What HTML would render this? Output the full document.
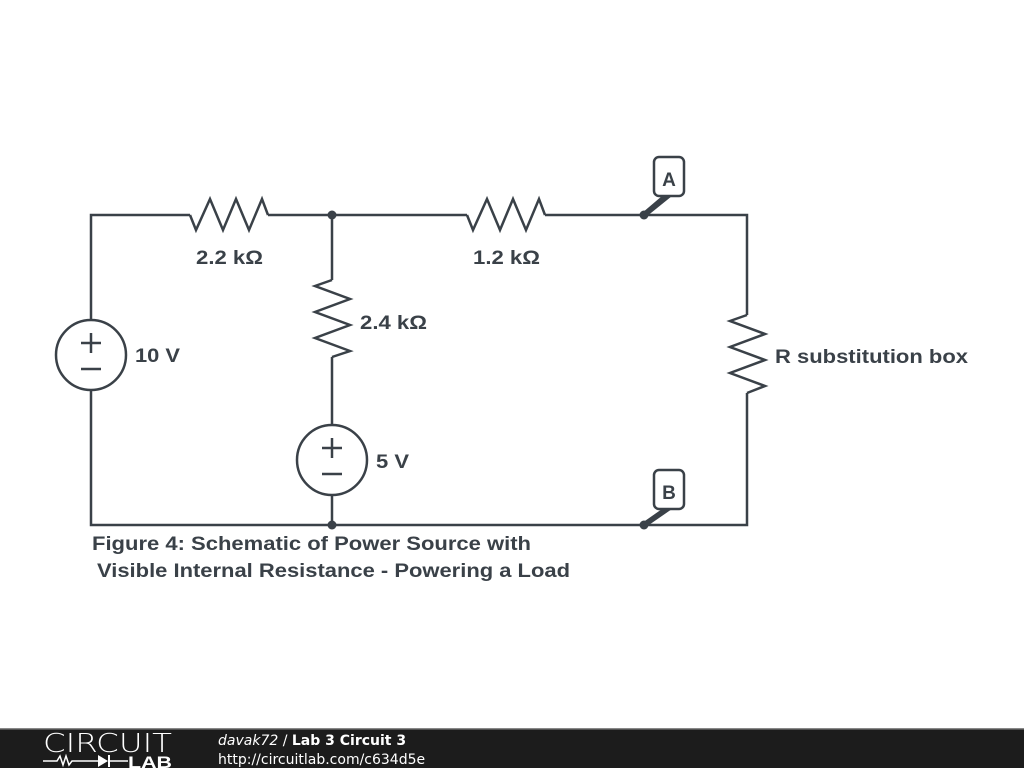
<!DOCTYPE html>
<html><head><style>
body{margin:0;width:1024px;height:768px;background:#fff;overflow:hidden;position:relative;font-family:"Liberation Sans",sans-serif}
</style></head><body>
<svg width="1024" height="768" style="position:absolute;left:0;top:0" xmlns="http://www.w3.org/2000/svg">
<g fill="none" stroke="#3a4148" stroke-width="2.5" stroke-linejoin="miter">
<polyline points="91,320 91,215 190,215"/>
<polyline points="268,215 467,215"/>
<polyline points="545,215 747,215 747,315"/>
<polyline points="747,393 747,525 91,525 91,390"/>
<line x1="332" y1="215" x2="332" y2="280"/>
<line x1="332" y1="357" x2="332" y2="425"/>
<line x1="332" y1="495" x2="332" y2="525"/>
<polyline points="190,215 196,230 210,199 223,230 236,199 249,230 262,199 268,215"/>
<polyline points="467,215 473,230 487,199 500,230 513,199 526,230 539,199 545,215"/>
<polyline points="332,280 315,286 350,299 315,312 350,325 315,338 350,351 332,357"/>
<polyline points="747,315 730,321 765,334 730,347 765,360 730,373 765,386 747,393"/>
<circle cx="91" cy="355" r="35"/>
<circle cx="332" cy="460" r="35"/>
<line x1="81" y1="343" x2="101" y2="343"/><line x1="91" y1="333" x2="91" y2="353"/>
<line x1="81" y1="369" x2="101" y2="369"/>
<line x1="322" y1="448" x2="342" y2="448"/><line x1="332" y1="438" x2="332" y2="458"/>
<line x1="322" y1="474" x2="342" y2="474"/>
<rect x="654" y="157" width="30" height="39" rx="5"/>
<rect x="654" y="470" width="30" height="39" rx="5"/>
</g>
<g fill="#3a4148">
<circle cx="332" cy="215" r="4.5"/><circle cx="332" cy="525" r="4.5"/>
<circle cx="644" cy="215" r="4.5"/><circle cx="644" cy="525" r="4.5"/>
<polygon points="662,196 672,196 646,217 642,213"/>
<polygon points="662,509 672,509 646,527 642,523"/>
</g>
<g fill="#3a4148" font-family="Liberation Sans, sans-serif" font-weight="bold" font-size="19">
<text x="669" y="186" text-anchor="middle">A</text>
<text x="669" y="499" text-anchor="middle">B</text>
<text x="196" y="264" textLength="67" lengthAdjust="spacingAndGlyphs">2.2 kΩ</text>
<text x="473" y="264" textLength="67" lengthAdjust="spacingAndGlyphs">1.2 kΩ</text>
<text x="360" y="329" textLength="67" lengthAdjust="spacingAndGlyphs">2.4 kΩ</text>
<text x="135" y="362" textLength="45" lengthAdjust="spacingAndGlyphs">10 V</text>
<text x="376" y="468" textLength="33" lengthAdjust="spacingAndGlyphs">5 V</text>
<text x="775" y="363" textLength="193" lengthAdjust="spacingAndGlyphs">R substitution box</text>
<text x="92" y="550" textLength="439" lengthAdjust="spacingAndGlyphs">Figure 4: Schematic of Power Source with</text>
<text x="97" y="577" textLength="473" lengthAdjust="spacingAndGlyphs">Visible Internal Resistance - Powering a Load</text>
</g>
<rect x="0" y="729" width="1024" height="39" fill="#1c1c1c"/>
<rect x="0" y="728" width="1024" height="1.5" fill="#888"/>
<text x="43" y="752" fill="#fff" font-family="DejaVu Sans, sans-serif" font-size="26" font-weight="200" textLength="129" lengthAdjust="spacingAndGlyphs">CIRCUIT</text>
<polyline points="43,761 57,761 60,756 63,765 66,756 69,765 72,761 100,761" fill="none" stroke="#fff" stroke-width="1.5"/>
<polygon points="98,755 98,767 108,761" fill="#fff"/>
<line x1="109" y1="755" x2="109" y2="767" stroke="#fff" stroke-width="2"/>
<line x1="109" y1="761" x2="128" y2="761" stroke="#fff" stroke-width="1.5"/>
<text x="128" y="768" fill="#fff" font-family="Liberation Sans, sans-serif" font-size="17" font-weight="bold" textLength="44" lengthAdjust="spacingAndGlyphs">LAB</text>
<text x="218" y="745" fill="#fff" font-family="DejaVu Sans, sans-serif" font-size="14"><tspan font-style="italic">davak72</tspan> / <tspan font-weight="bold">Lab 3 Circuit 3</tspan></text>
<text x="218" y="764" fill="#fff" font-family="DejaVu Sans, sans-serif" font-size="14">http://circuitlab.com/c634d5e</text>
</svg>
</body></html>
